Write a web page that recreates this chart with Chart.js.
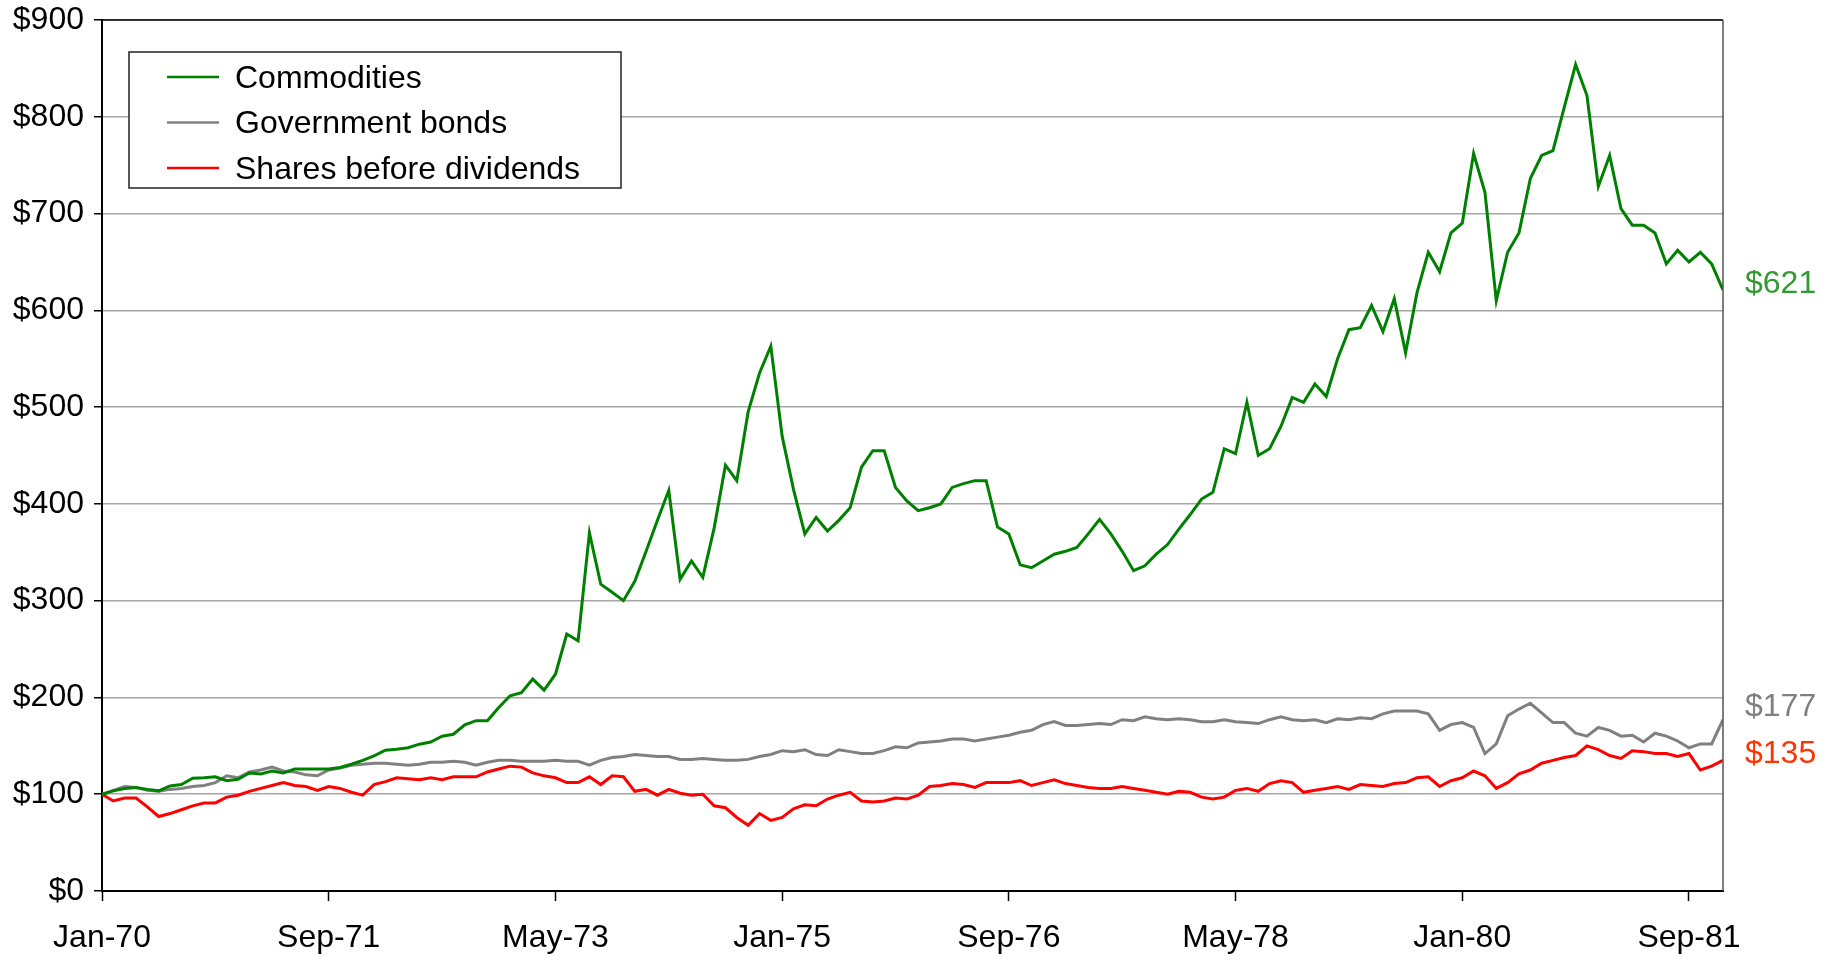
<!DOCTYPE html>
<html>
<head>
<meta charset="utf-8">
<script src="https://cdn.jsdelivr.net/npm/chart.js@4.4.1/dist/chart.umd.min.js"></script>
<style>
  html, body { margin: 0; padding: 0; background: #fff; }
  #wrap { width: 1834px; height: 956px; }
</style>
</head>
<body>
<div id="wrap"><canvas id="growthChart" width="1834" height="956"></canvas></div>
<script>
// month index from Jan-70 (0) to Dec-81 (143)
const months = Array.from({ length: 144 }, (_, i) => i);
const tickMonths = [0, 20, 40, 60, 80, 100, 120, 140];
const tickLabels = ['Jan-70', 'Sep-71', 'May-73', 'Jan-75', 'Sep-76', 'May-78', 'Jan-80', 'Sep-81'];

// value of $100 invested in Jan-70
const commodities = [
  100, 103.5, 106, 107, 105, 103.5, 108.6, 110, 116.5, 117, 118, 114,
  115.5, 122, 121, 124, 122, 126, 126, 126, 126, 127.6, 131, 135,
  139.7, 145.5, 146.5, 148, 151.7, 154, 160, 162, 171.7, 176, 176, 189.7,
  201.7, 205, 219, 207.6, 224, 265.5, 258.6, 370, 317, 308.6, 300, 320,
  351, 383, 414, 322, 341, 324, 375, 440, 424, 495, 535, 563,
  470, 415, 369, 386, 372, 383, 396, 438, 455, 455, 417, 403,
  393, 396, 400, 417, 421, 424, 424, 376, 369, 337, 334, 341,
  348, 351, 355, 369, 384, 369, 351, 331, 336, 348, 358, 374,
  389, 405, 412, 457, 452, 505, 450, 457, 480, 510, 505, 524,
  511, 550, 580, 582, 605, 578, 612, 556, 618, 660, 640, 680,
  690, 762, 722, 610, 660, 680, 736, 760, 765, 810, 854, 822,
  728, 760, 705, 688, 688, 680, 648, 662, 650, 660, 648, 621
];
const govBonds = [
  100, 104, 108, 107, 104, 103, 105, 106, 108, 109, 112, 119,
  117, 123, 125, 128, 124, 123, 120, 119, 125, 127, 130, 131,
  132, 132, 131, 130, 131, 133, 133, 134, 133, 130, 133, 135,
  135, 134, 134, 134, 135, 134, 134, 130, 135, 138, 139, 141,
  140, 139, 139, 136, 136, 137, 136, 135, 135, 136, 139, 141,
  145, 144, 146, 141, 140, 146, 144, 142, 142, 145, 149, 148,
  153, 154, 155, 157, 157, 155, 157, 159, 161, 164, 166, 172,
  175, 171, 171, 172, 173, 172, 177, 176, 180, 178, 177, 178,
  177, 175, 175, 177, 175, 174, 173, 177, 180, 177, 176, 177,
  174, 178, 177, 179, 178, 183, 186, 186, 186, 183, 166, 172,
  174, 169, 142, 152, 181, 188, 194, 184, 174, 174, 163, 160,
  169, 166, 160, 161, 154, 163, 160, 155, 148, 152, 152, 177
];
const shares = [
  100, 93, 96, 96, 87, 77, 80, 84, 88, 91, 91, 97,
  99, 103, 106, 109, 112, 109, 108, 104, 108, 106, 102, 99,
  110, 113, 117, 116, 115, 117, 115, 118, 118, 118, 123, 126,
  129, 128, 122, 119, 117, 112, 112, 118, 110, 119, 118, 103,
  105, 99, 105, 101, 99, 100, 88, 86, 76, 68, 80, 73,
  76, 85, 89, 88, 95, 99, 102, 93, 92, 93, 96, 95,
  99, 108, 109, 111, 110, 107, 112, 112, 112, 114, 109, 112,
  115, 111, 109, 107, 106, 106, 108, 106, 104, 102, 100, 103,
  102, 97, 95, 97, 104, 106, 103, 111, 114, 112, 102, 104,
  106, 108, 105, 110, 109, 108, 111, 112, 117, 118, 108, 114,
  117, 124, 119, 106, 112, 121, 125, 132, 135, 138, 140, 150,
  146, 140, 137, 145, 144, 142, 142, 139, 142, 125, 129, 135
];

const baseFont = { family: "'Liberation Sans', Arial, sans-serif", size: 32 };

// box legend drawn inside the plot, top left
const boxLegend = {
  id: 'boxLegend',
  afterDraw(chart) {
    const { ctx, chartArea } = chart;
    const left = chartArea.left + 27, top = chartArea.top + 32;
    const w = 492, h = 136;
    ctx.save();
    ctx.fillStyle = '#fff';
    ctx.fillRect(left, top, w, h);
    ctx.strokeStyle = '#222';
    ctx.lineWidth = 1.5;
    ctx.strokeRect(left, top, w, h);
    ctx.font = `${baseFont.size}px ${baseFont.family}`;
    ctx.textBaseline = 'middle';
    chart.data.datasets.forEach((ds, i) => {
      const y = top + 25 + i * 45.5;
      ctx.strokeStyle = ds.borderColor;
      ctx.lineWidth = 2.5;
      ctx.beginPath();
      ctx.moveTo(left + 38, y);
      ctx.lineTo(left + 90, y);
      ctx.stroke();
      ctx.fillStyle = '#000';
      ctx.fillText(ds.label, left + 106, y + 2);
    });
    ctx.restore();
  }
};

// frame and final values at the right end
const endLabels = {
  id: 'endLabels',
  afterDraw(chart) {
    const { ctx, chartArea } = chart;
    const yScale = chart.scales.y;
    ctx.save();
    ctx.strokeStyle = '#000';
    ctx.lineWidth = 1.5;
    ctx.beginPath();
    ctx.moveTo(chartArea.left, chartArea.top);
    ctx.lineTo(chartArea.right, chartArea.top);
    ctx.stroke();
    ctx.strokeStyle = '#555';
    ctx.beginPath();
    ctx.moveTo(chartArea.right, chartArea.top);
    ctx.lineTo(chartArea.right, chartArea.bottom);
    ctx.stroke();

    ctx.font = `${baseFont.size}px ${baseFont.family}`;
    ctx.textBaseline = 'middle';
    chart.data.datasets.forEach(ds => {
      const last = ds.data[ds.data.length - 1];
      const y = yScale.getPixelForValue(last) + ds.endShift;
      ctx.fillStyle = ds.endColor;
      ctx.fillText('$' + Math.round(last), chartArea.right + 22, y);
    });
    ctx.restore();
  }
};

new Chart(document.getElementById('growthChart'), {
  type: 'line',
  data: {
    labels: months,
    datasets: [
      { label: 'Commodities', data: commodities, borderColor: '#008000', endColor: '#339933', endShift: -6 },
      { label: 'Government bonds', data: govBonds, borderColor: '#808080', endColor: '#808080', endShift: -13 },
      { label: 'Shares before dividends', data: shares, borderColor: '#ff0000', endColor: '#ff3300', endShift: -6 }
    ]
  },
  options: {
    responsive: false,
    animation: false,
    layout: { padding: { top: 20, right: 111, left: 0, bottom: 0 } },
    plugins: {
      legend: { display: false },
      tooltip: { enabled: false }
    },
    elements: {
      point: { radius: 0 },
      line: { borderWidth: 3, tension: 0 }
    },
    scales: {
      x: {
        type: 'linear',
        min: 0,
        max: 143,
        afterBuildTicks: s => { s.ticks = tickMonths.map(v => ({ value: v })); },
        afterFit: s => { s.height = 65; s.paddingLeft = 0; s.paddingRight = 0; },
        grid: { drawOnChartArea: false, drawTicks: true, tickLength: 10, tickColor: '#000', tickWidth: 1.5 },
        border: { color: '#000', width: 2 },
        ticks: {
          color: '#000',
          font: baseFont,
          padding: 18,
          maxRotation: 0,
          autoSkip: false,
          callback: v => tickLabels[tickMonths.indexOf(v)]
        }
      },
      y: {
        min: 0,
        max: 900,
        afterFit: s => { s.width = 102; s.paddingTop = 0; s.paddingBottom = 0; },
        grid: { color: '#a6a6a6', lineWidth: 1.5, tickLength: 8, tickColor: '#000' },
        border: { color: '#000', width: 2 },
        ticks: {
          stepSize: 100,
          color: '#000',
          font: baseFont,
          padding: 10,
          callback: v => '$' + v
        }
      }
    }
  },
  plugins: [boxLegend, endLabels]
});
</script>
</body>
</html>
